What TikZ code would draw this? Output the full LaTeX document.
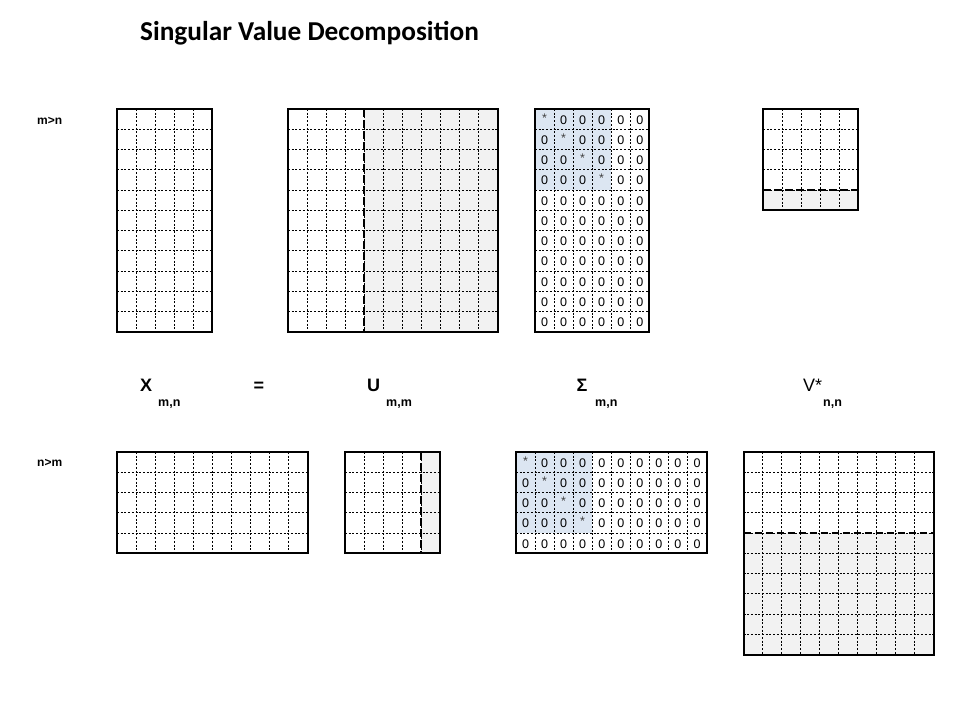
\documentclass[tikz,border=0pt]{standalone}
\usepackage{fontspec}
\setmainfont{Liberation Sans}
\newfontfamily\titlefont{Carlito}
\usepackage{tikz}
\usetikzlibrary{patterns}

\definecolor{cellgray}{HTML}{F2F2F2}
\definecolor{diagblue}{HTML}{DCE6F2}

\newcommand{\colw}{19.05}
\newcommand{\rowh}{20.25}

\tikzset{
    cellline/.style={line width=1pt, dash pattern=on 2pt off 1.7pt},
    matframe/.style={line width=2pt},
    cutline/.style={line width=2pt, dash pattern=on 7.5pt off 3.5pt},
    entry/.style={anchor=base, inner sep=0pt, font=\fontsize{12.5}{14}\selectfont},
    diagentry/.style={entry, text=black!75, yshift=2pt},
    namelabel/.style={anchor=base west, inner sep=0pt, font=\bfseries\fontsize{18}{20}\selectfont},
    sublabel/.style={anchor=base west, inner sep=0pt, font=\bfseries\fontsize{12.5}{14}\selectfont},
    caselabel/.style={anchor=base west, inner sep=0pt, font=\bfseries\fontsize{12}{14}\selectfont},
}

% top left x, top left y, columns, rows
\newcommand{\cellgrid}[4]{%
    \foreach \c in {1,...,#3} \draw[cellline] (#1+\c*\colw,#2) -- (#1+\c*\colw,#2+#4*\rowh);
    \foreach \r in {1,...,#4} \draw[cellline] (#1,#2+\r*\rowh) -- (#1+#3*\colw,#2+\r*\rowh);
}

\begin{document}
\begin{tikzpicture}[x=1pt, y=-1pt]
        \path[use as bounding box, fill=white] (0,0) rectangle (975,718);

        % Title
        \node[anchor=base west, inner sep=0pt, font=\titlefont\bfseries\fontsize{27.3}{30}\selectfont] (title) at (140,40) {Singular Value Decomposition};

        % Shading
        \fill[cellgray] (288+4*\colw,109) rectangle (288+11*\colw,109+11*\rowh);
        \fill[cellgray] (763,109+4*\rowh) rectangle (763+5*\colw,109+5*\rowh);
        \fill[cellgray] (345+4*\colw,452) rectangle (345+5*\colw,452+5*\rowh);
        \fill[cellgray] (743.5,452+4*\rowh) rectangle (743.5+10*\colw,452+10*\rowh);
        \fill[diagblue] (535,109) rectangle (535+4*\colw,109+4*\rowh);
        \fill[diagblue] (516,452) rectangle (516+4*\colw,452+4*\rowh);

        % Grids, m>n
        \cellgrid{117}{109}{5}{11}
        \cellgrid{288}{109}{11}{11}
        \cellgrid{535}{109}{6}{11}
        \cellgrid{763}{109}{5}{5}

        % Grids, n>m
        \cellgrid{117}{452}{10}{5}
        \cellgrid{345}{452}{5}{5}
        \cellgrid{516}{452}{10}{5}
        \cellgrid{743.5}{452}{10}{10}

        % Cuts
        \draw[cutline] (288+4*\colw,109) -- (288+4*\colw,109+11*\rowh);
        \draw[cutline] (763,109+4*\rowh) -- (763+5*\colw,109+4*\rowh);
        \draw[cutline] (345+4*\colw,452) -- (345+4*\colw,452+5*\rowh);
        \draw[cutline] (743.5,452+4*\rowh) -- (743.5+10*\colw,452+4*\rowh);

        % Frames
        \draw[matframe] (117,109) rectangle (117+5*\colw,109+11*\rowh);
        \draw[matframe] (288,109) rectangle (288+11*\colw,109+11*\rowh);
        \draw[matframe] (535,109) rectangle (535+6*\colw,109+11*\rowh);
        \draw[matframe] (763,109) rectangle (763+5*\colw,109+5*\rowh);
        \draw[matframe] (117,452) rectangle (117+10*\colw,452+5*\rowh);
        \draw[matframe] (345,452) rectangle (345+5*\colw,452+5*\rowh);
        \draw[matframe] (516,452) rectangle (516+10*\colw,452+5*\rowh);
        \draw[matframe] (743.5,452) rectangle (743.5+10*\colw,452+10*\rowh);

        % Sigma entries
        \foreach \r in {1,...,11} {
            \foreach \c in {1,...,6} {
                \pgfmathtruncatemacro\isdiag{(\r==\c)&&(\r<5)}
                \ifnum\isdiag=1
                    \node[diagentry] (sa-\r-\c) at (535+\c*\colw-0.5*\colw,109+\r*\rowh-\rowh+15.2) {*};
                \else
                    \node[entry] (sa-\r-\c) at (535+\c*\colw-0.5*\colw,109+\r*\rowh-\rowh+15.2) {0};
                \fi
            }
        }
        \foreach \r in {1,...,5} {
            \foreach \c in {1,...,10} {
                \pgfmathtruncatemacro\isdiag{(\r==\c)&&(\r<5)}
                \ifnum\isdiag=1
                    \node[diagentry] (sb-\r-\c) at (516+\c*\colw-0.5*\colw,452+\r*\rowh-\rowh+15.2) {*};
                \else
                    \node[entry] (sb-\r-\c) at (516+\c*\colw-0.5*\colw,452+\r*\rowh-\rowh+15.2) {0};
                \fi
            }
        }

        % Labels
        \node[caselabel] (mgtn) at (37,124.5) {m>n};
        \node[caselabel] (ngtm) at (37,466.5) {n>m};

        \node[namelabel] (X) at (140,391.7) {X};
        \node[sublabel] (Xsub) at (158,406.5) {m,n};
        \node[namelabel] (eq) at (253.5,391.7) {=};
        \node[namelabel] (U) at (367,391.7) {U};
        \node[sublabel] (Usub) at (386,406.5) {m,m};
        \node[namelabel] (S) at (576.5,391.7) {Σ};
        \node[sublabel] (Ssub) at (595,406.5) {m,n};
        \node[namelabel, font=\fontsize{18}{20}\selectfont] (V) at (803,391.7) {V*};
        \node[sublabel] (Vsub) at (823,406.5) {n,n};
    \end{tikzpicture}
\end{document}
